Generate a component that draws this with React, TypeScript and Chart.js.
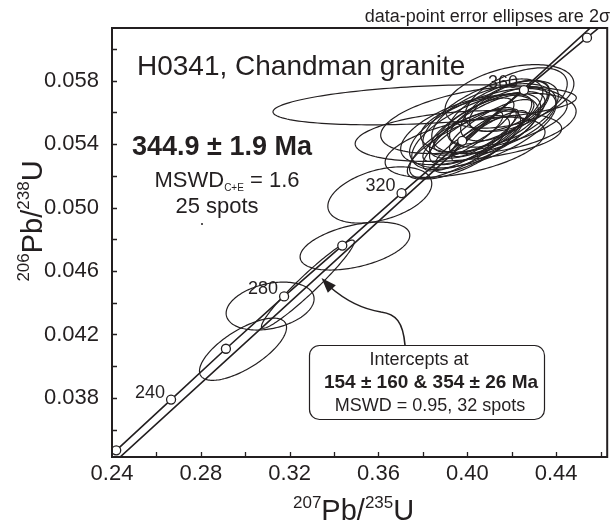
import React, { useEffect, useRef } from "react";
import { Chart, registerables } from "chart.js";
Chart.register(...registerables);

const INK = "#231f20";
const FONT = "'Liberation Sans', Arial, Helvetica, sans-serif";

// Concordia age markers (Ma) and their ratios
const concordiaAges = [220, 240, 260, 280, 300, 320, 340, 360, 380];
const concordiaX = [0.2419, 0.2666, 0.2913, 0.3175, 0.3437, 0.3704, 0.3977, 0.4255, 0.4539];
const concordiaY = [0.0347, 0.0379, 0.0411, 0.0444, 0.0476, 0.0509, 0.0542, 0.0574, 0.0607];
const labeledAges = [240, 280, 320, 360];
// concordia curve vertices (incl. 210 and 390 Ma beyond the frame)
const concordiaLineX = [0.2298, 0.2419, 0.2666, 0.2913, 0.3175, 0.3437, 0.3704, 0.3977, 0.4255, 0.4539, 0.4683];
const concordiaLineY = [0.03311, 0.0347, 0.0379, 0.0411, 0.0444, 0.0476, 0.0509, 0.0542, 0.0574, 0.0607, 0.06237];

// Discordia (lower intercept 154 Ma, through upper intercept 354 Ma, extended)
const discordiaX = [0.1645, 0.4172, 0.47];
const discordiaY = [0.02417, 0.05644, 0.06318];

// Spot error ellipses: centre, 2-sigma half extents, error correlation
const spotX = [0.2990, 0.3112, 0.3282, 0.3494, 0.3606,
  0.3808, 0.3960, 0.4030, 0.4190, 0.4060, 0.4090, 0.4010, 0.4140, 0.4040, 0.4110,
  0.3990, 0.4170, 0.4070, 0.4100, 0.4030, 0.4160, 0.3960, 0.4120, 0.4080, 0.4010,
  0.4190, 0.4050, 0.4140, 0.3990, 0.4070, 0.4220, 0.3980];
const spotX2s = [0.0196, 0.0198, 0.0209, 0.0247, 0.0234,
  0.0683, 0.0465, 0.0420, 0.0290, 0.0230, 0.0260, 0.0210, 0.0220, 0.0290, 0.0190,
  0.0250, 0.0200, 0.0330, 0.0170, 0.0180, 0.0250, 0.0230, 0.0280, 0.0150, 0.0310,
  0.0180, 0.0200, 0.0350, 0.0360, 0.0270, 0.0230, 0.0180];
const spotY = [0.04107, 0.04379, 0.04517, 0.04757, 0.05079,
  0.05647, 0.05450, 0.05550, 0.05700, 0.05490, 0.05520, 0.05430, 0.05580, 0.05480, 0.05510,
  0.05400, 0.05610, 0.05500, 0.05450, 0.05520, 0.05590, 0.05380, 0.05560, 0.05470, 0.05490,
  0.05640, 0.05400, 0.05530, 0.05380, 0.05570, 0.05680, 0.05450];
const spotY2s = [0.00196, 0.00151, 0.00278, 0.00151, 0.00177,
  0.00126, 0.00160, 0.00210, 0.00200, 0.00220, 0.00210, 0.00200, 0.00180, 0.00240, 0.00170,
  0.00220, 0.00190, 0.00250, 0.00160, 0.00170, 0.00210, 0.00200, 0.00220, 0.00150, 0.00220,
  0.00160, 0.00180, 0.00190, 0.00190, 0.00240, 0.00200, 0.00160];
const spotRho = [0.70, 0.30, 0.96, 0.45, 0.40,
  0.35, 0.30, 0.45, 0.40, 0.75, 0.70, 0.80, 0.70, 0.65, 0.80,
  0.70, 0.60, 0.60, 0.85, 0.75, 0.55, 0.75, 0.50, 0.85, 0.55,
  0.60, 0.80, 0.40, 0.50, 0.65, 0.50, 0.80];

const xTicks = [0.24, 0.28, 0.32, 0.36, 0.40, 0.44];
const yTicks = [0.038, 0.042, 0.046, 0.050, 0.054, 0.058];
const xMinorTicks = [0.26, 0.28, 0.30, 0.32, 0.34, 0.36, 0.38, 0.40, 0.42, 0.44, 0.46];
const yMinorTicks = [0.036, 0.038, 0.040, 0.042, 0.044, 0.046, 0.048, 0.050, 0.052, 0.054, 0.056, 0.058, 0.060];

function drawParts(ctx: CanvasRenderingContext2D, parts: { t: string; font: string; dy: number }[], x: number, y: number, align: "left" | "center") {
  let total = 0;
  for (const p of parts) { ctx.font = p.font; total += ctx.measureText(p.t).width; }
  let cx = align === "center" ? x - total / 2 : x;
  ctx.textAlign = "left";
  ctx.textBaseline = "alphabetic";
  for (const p of parts) {
    ctx.font = p.font;
    ctx.fillText(p.t, cx, y + p.dy);
    cx += ctx.measureText(p.t).width;
  }
}

const decorPlugin = {
  id: "decor",
  beforeDatasetsDraw(chart: any) {
    const { ctx, chartArea: a, scales } = chart;
    const xs = scales.x, ys = scales.y;
    ctx.save();
    ctx.beginPath();
    ctx.rect(a.left, a.top, a.right - a.left, a.bottom - a.top);
    ctx.clip();
    ctx.strokeStyle = INK;
    ctx.lineWidth = 1.2;
    for (let i = 0; i < spotX.length; i++) {
      const r = spotRho[i];
      const s = Math.sqrt(1 - r * r);
      ctx.beginPath();
      for (let k = 0; k <= 160; k++) {
        const th = (k / 160) * Math.PI * 2;
        const xd = spotX[i] + spotX2s[i] * Math.cos(th);
        const yd = spotY[i] + spotY2s[i] * (r * Math.cos(th) + s * Math.sin(th));
        const px = xs.getPixelForValue(xd), py = ys.getPixelForValue(yd);
        if (k === 0) ctx.moveTo(px, py); else ctx.lineTo(px, py);
      }
      ctx.closePath();
      ctx.stroke();
    }
    ctx.restore();
  },
  afterDraw(chart: any) {
    const { ctx, chartArea: a, scales } = chart;
    const xs = scales.x, ys = scales.y;
    ctx.save();
    ctx.strokeStyle = INK;
    ctx.fillStyle = INK;
    // inward ticks
    ctx.lineWidth = 1.3;
    ctx.beginPath();
    for (const v of xMinorTicks) {
      const px = Math.round(xs.getPixelForValue(v)) + 0.5;
      if (px > a.right - 2) continue;
      ctx.moveTo(px, a.bottom); ctx.lineTo(px, a.bottom - 5);
    }
    for (const v of yMinorTicks) {
      const py = Math.round(ys.getPixelForValue(v)) + 0.5;
      ctx.moveTo(a.left, py); ctx.lineTo(a.left + 5, py);
    }
    ctx.stroke();
    // frame
    ctx.lineWidth = 2;
    ctx.strokeRect(a.left, a.top, a.right - a.left, a.bottom - a.top);

    // age labels
    ctx.font = `18px ${FONT}`;
    ctx.textAlign = "right";
    ctx.textBaseline = "middle";
    for (const age of labeledAges) {
      const i = concordiaAges.indexOf(age);
      const px = xs.getPixelForValue(concordiaX[i]);
      const py = ys.getPixelForValue(concordiaY[i]);
      ctx.fillText(String(age), px - 6, py - 7);
    }

    // title
    ctx.textAlign = "left";
    ctx.textBaseline = "alphabetic";
    ctx.font = `28px ${FONT}`;
    ctx.fillText("H0341, Chandman granite", 137, 75);
    ctx.textAlign = "center";
    ctx.font = `bold 27px ${FONT}`;
    ctx.fillText("344.9 \u00b1 1.9 Ma", 222, 155);
    drawParts(ctx, [
      { t: "MSWD", font: `22px ${FONT}`, dy: 0 },
      { t: "C+E", font: `10px ${FONT}`, dy: 4 },
      { t: " = 1.6", font: `22px ${FONT}`, dy: 0 },
    ], 227, 187, "center");
    ctx.textAlign = "center";
    ctx.font = `22px ${FONT}`;
    ctx.fillText("25 spots", 217, 213);
    ctx.beginPath();
    ctx.arc(202, 224, 1, 0, Math.PI * 2);
    ctx.fill();

    // top note
    ctx.textAlign = "right";
    ctx.font = `18px ${FONT}`;
    ctx.fillText("data-point error ellipses are 2\u03c3", 610, 22);

    // arrow
    ctx.lineWidth = 1.6;
    ctx.beginPath();
    ctx.moveTo(405, 345);
    ctx.bezierCurveTo(403, 322, 396, 314, 381, 312);
    ctx.bezierCurveTo(362, 309, 345, 300, 330, 287);
    ctx.stroke();
    ctx.beginPath();
    const tipX = 321.5, tipY = 278;
    const ang = Math.atan2(287 - tipY, 330 - tipX);
    const L = 15, W = 5.5;
    const bx = tipX + L * Math.cos(ang), by = tipY + L * Math.sin(ang);
    ctx.moveTo(tipX, tipY);
    ctx.lineTo(bx + W * Math.sin(ang), by - W * Math.cos(ang));
    ctx.lineTo(bx - W * Math.sin(ang), by + W * Math.cos(ang));
    ctx.closePath();
    ctx.fill();

    // intercept box
    ctx.lineWidth = 1.2;
    ctx.fillStyle = "#ffffff";
    ctx.beginPath();
    (ctx as any).roundRect(309.5, 345.5, 235, 74, 10);
    ctx.fill();
    ctx.stroke();
    ctx.fillStyle = INK;
    ctx.textAlign = "center";
    ctx.font = `18px ${FONT}`;
    ctx.fillText("Intercepts at", 419, 365);
    ctx.font = `bold 19px ${FONT}`;
    ctx.fillText("154 \u00b1 160 & 354 \u00b1 26 Ma", 431, 388);
    ctx.font = `18px ${FONT}`;
    ctx.fillText("MSWD = 0.95, 32 spots", 430, 411);

    // axis titles
    drawParts(ctx, [
      { t: "207", font: `17px ${FONT}`, dy: -12 },
      { t: "Pb/", font: `29px ${FONT}`, dy: 0 },
      { t: "235", font: `17px ${FONT}`, dy: -12 },
      { t: "U", font: `29px ${FONT}`, dy: 0 },
    ], 293, 520, "left");
    ctx.save();
    ctx.translate(42, 221);
    ctx.rotate(-Math.PI / 2);
    drawParts(ctx, [
      { t: "206", font: `17px ${FONT}`, dy: -13 },
      { t: "Pb/", font: `29px ${FONT}`, dy: 0 },
      { t: "238", font: `17px ${FONT}`, dy: -13 },
      { t: "U", font: `29px ${FONT}`, dy: 0 },
    ], 0, 0, "center");
    ctx.restore();
    ctx.restore();
  },
};

export default function App() {
  const ref = useRef<HTMLCanvasElement | null>(null);
  useEffect(() => {
    if (!ref.current) return;
    const chart = new Chart(ref.current, {
      type: "scatter",
      data: {
        datasets: [
          {
            label: "ages",
            data: concordiaX.map((x, i) => ({ x, y: concordiaY[i] })),
            showLine: false,
            pointRadius: 4.5,
            pointBackgroundColor: "#ffffff",
            pointBorderColor: INK,
            pointBorderWidth: 1.3,
            order: 0,
          },
          {
            label: "concordia",
            data: concordiaLineX.map((x, i) => ({ x, y: concordiaLineY[i] })),
            showLine: true,
            pointRadius: 0,
            borderColor: INK,
            borderWidth: 1.6,
            order: 1,
          },
          {
            label: "discordia",
            data: discordiaX.map((x, i) => ({ x, y: discordiaY[i] })),
            showLine: true,
            pointRadius: 0,
            borderColor: INK,
            borderWidth: 1.6,
            order: 2,
          },
        ],
      },
      options: {
        animation: false,
        responsive: false,
        events: [],
        layout: { padding: { top: 28, right: 5, left: 0, bottom: 0 } },
        plugins: { legend: { display: false }, tooltip: { enabled: false } },
        scales: {
          x: {
            type: "linear",
            min: 0.24,
            max: 0.463,
            afterBuildTicks: (axis: any) => { axis.ticks = xTicks.map((v) => ({ value: v })); },
            afterFit: (s: any) => { s.height = 67; },
            grid: { display: false, drawTicks: false },
            border: { display: false },
            ticks: {
              color: INK,
              font: { family: FONT, size: 22 },
              padding: 4,
              maxRotation: 0,
              autoSkip: false,
              callback: (v: any) => Number(v).toFixed(2),
            },
          },
          y: {
            type: "linear",
            min: 0.03428,
            max: 0.06131,
            afterBuildTicks: (axis: any) => { axis.ticks = yTicks.map((v) => ({ value: v })); },
            afterFit: (s: any) => { s.width = 112; },
            grid: { display: false, drawTicks: false },
            border: { display: false },
            ticks: {
              color: INK,
              font: { family: FONT, size: 22 },
              padding: 13,
              autoSkip: false,
              callback: (v: any) => Number(v).toFixed(3),
            },
          },
        },
      },
      plugins: [decorPlugin],
    } as any);
    return () => chart.destroy();
  }, []);
  return (
    <div style={{ position: "absolute", left: 0, top: 0, width: 613, height: 524, background: "#fff" }}>
      <canvas ref={ref} width={613} height={524} style={{ display: "block" }} />
    </div>
  );
}
